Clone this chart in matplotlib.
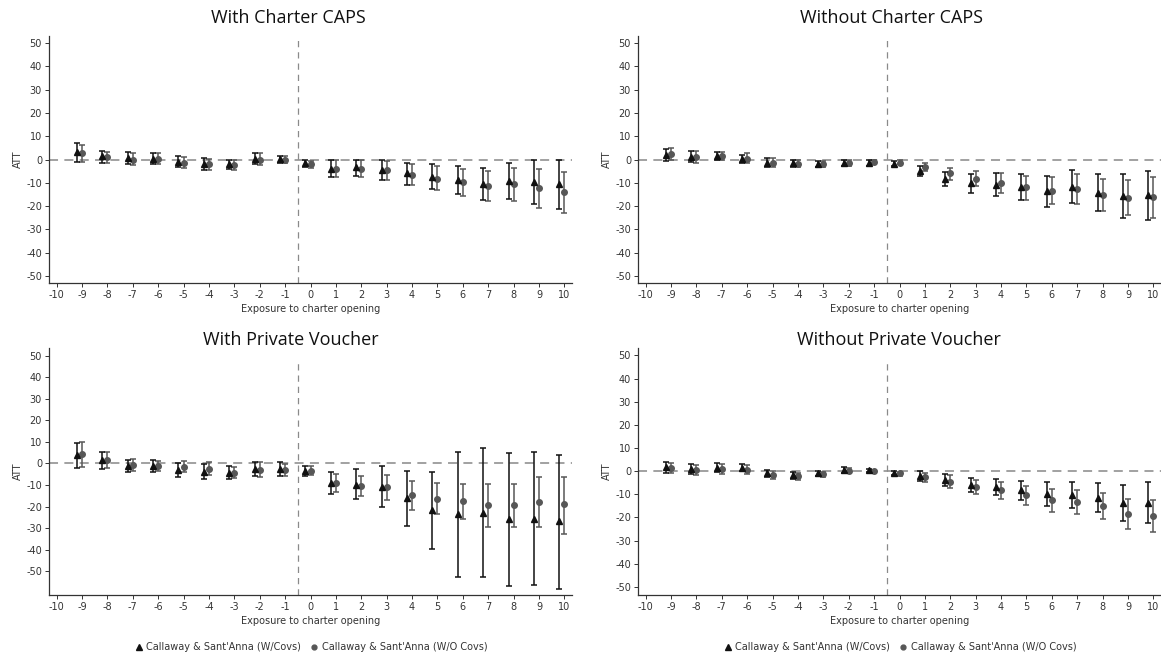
import matplotlib
matplotlib.use("Agg")
import matplotlib.pyplot as plt
from matplotlib.lines import Line2D
import numpy as np

# ---------------- data ----------------
periods = list(range(-9, 11))
xtick_labels = list(range(-10, 11))
ytick_vals = [50, 40, 30, 20, 10, 0, -10, -20, -30, -40, -50]

titles = ["With Charter CAPS", "Without Charter CAPS",
          "With Private Voucher", "Without Private Voucher"]
legend_labels = ["Callaway & Sant'Anna (W/Covs)", "Callaway & Sant'Anna (W/O Covs)"]
xlabel = "Exposure to charter opening"
ylabel = "ATT"

# Panel 1: With Charter CAPS
p1_cov = [3.1, 1.4, 0.6, 0.3, -1.1, -1.9, -2.1, 0.3, 0.1, -1.6, -3.9, -3.4, -4.3, -6.0, -7.4, -9.0, -10.4, -9.2, -9.7, -10.4]
p1_cov_lo = [-0.9, -1.4, -2.0, -2.0, -3.3, -4.3, -4.0, -2.1, -1.6, -3.3, -7.4, -6.9, -8.6, -10.9, -12.7, -14.9, -17.3, -16.9, -19.0, -21.2]
p1_cov_hi = [6.9, 3.6, 3.1, 2.7, 1.4, 0.6, -0.1, 2.6, 1.7, -0.3, -0.3, -0.1, -0.3, -1.4, -2.1, -2.9, -3.6, -1.4, -0.3, -0.1]
p1_nocov = [2.9, 1.0, 0.0, 0.1, -1.4, -2.1, -2.4, 0.0, 0.0, -2.0, -4.1, -4.1, -4.7, -6.6, -8.2, -9.7, -11.2, -10.7, -12.4, -14.0]
p1_nocov_lo = [-1.1, -1.7, -2.4, -2.0, -3.6, -4.6, -4.7, -2.4, -1.7, -3.6, -7.4, -7.6, -8.9, -11.0, -13.2, -15.5, -17.9, -17.6, -20.9, -22.9]
p1_nocov_hi = [6.4, 3.4, 2.7, 2.6, 1.0, 0.3, -0.3, 2.6, 1.6, -0.6, -0.3, -0.3, -0.7, -2.0, -2.9, -3.9, -5.0, -3.6, -4.1, -5.3]

# Panel 2: Without Charter CAPS
p2_cov = [2.1, 1.1, 1.6, 0.3, -1.3, -1.7, -1.9, -1.4, -1.4, -1.9, -4.9, -8.3, -10.2, -10.9, -11.9, -13.7, -11.6, -14.2, -15.6, -15.3]
p2_cov_lo = [-0.7, -1.1, -0.4, -1.7, -3.3, -3.3, -3.1, -2.6, -2.6, -2.7, -7.2, -11.2, -14.2, -15.6, -17.3, -20.2, -18.7, -22.2, -25.0, -25.8]
p2_cov_hi = [4.6, 3.6, 3.4, 2.1, 0.6, -0.3, -0.7, -0.3, -0.3, -0.7, -2.6, -5.4, -6.2, -5.9, -6.3, -6.9, -4.3, -6.3, -6.3, -5.0]
p2_nocov = [2.3, 1.1, 1.6, 0.4, -1.3, -1.9, -1.9, -1.4, -1.0, -1.3, -3.3, -6.0, -8.2, -9.9, -11.9, -13.4, -12.6, -15.2, -16.5, -16.2]
p2_nocov_lo = [-0.3, -1.4, -0.4, -1.7, -3.3, -3.3, -3.1, -2.7, -2.0, -2.0, -5.0, -8.6, -11.4, -14.2, -17.2, -19.0, -19.0, -22.2, -23.9, -24.9]
p2_nocov_hi = [4.9, 3.6, 3.4, 2.6, 0.6, -0.3, -0.6, 0.0, 0.0, -0.4, -1.4, -3.6, -5.0, -5.9, -7.0, -7.4, -6.3, -8.4, -8.9, -7.7]

# Panel 3: With Private Voucher
p3_cov = [4.0, 1.4, -1.4, -1.4, -3.1, -4.2, -4.5, -2.5, -2.8, -3.6, -9.0, -9.8, -10.8, -15.9, -21.7, -23.5, -22.8, -26.0, -25.7, -26.9]
p3_cov_lo = [-2.0, -2.6, -4.2, -3.9, -6.3, -7.4, -7.4, -5.9, -6.0, -5.7, -14.2, -16.7, -20.4, -28.8, -39.5, -52.5, -52.5, -56.8, -56.5, -58.0]
p3_cov_hi = [9.6, 5.1, 1.7, 1.7, 0.3, -0.5, -1.2, 0.8, 0.5, -1.2, -3.9, -2.6, -1.2, -3.4, -4.2, 5.4, 7.0, 4.6, 5.1, 4.0]
p3_nocov = [4.3, 1.7, -0.9, -1.1, -1.5, -2.5, -4.5, -3.1, -3.1, -3.6, -9.1, -10.4, -11.1, -14.7, -16.6, -17.5, -19.2, -19.3, -18.0, -19.0]
p3_nocov_lo = [-1.7, -2.0, -3.6, -3.7, -4.0, -5.6, -6.7, -6.3, -6.0, -5.6, -13.3, -14.9, -17.0, -21.5, -23.5, -26.0, -29.3, -29.7, -29.7, -32.5]
p3_nocov_hi = [10.1, 5.1, 2.0, 1.2, 0.9, 0.6, -1.7, 0.5, -0.5, -1.1, -5.1, -5.9, -5.6, -8.2, -9.1, -9.6, -9.6, -9.6, -6.2, -6.2]

# Panel 4: Without Private Voucher
p4_cov = [1.9, 0.9, 1.4, 1.4, -1.0, -1.7, -0.9, 0.6, 0.4, -0.7, -2.2, -3.9, -5.9, -7.0, -8.2, -9.9, -10.1, -11.5, -13.6, -13.6]
p4_cov_lo = [-0.6, -1.3, -0.4, 0.0, -2.6, -3.6, -2.0, -0.6, -0.3, -1.6, -4.3, -6.3, -8.9, -10.5, -12.5, -15.1, -15.8, -17.5, -21.6, -22.6]
p4_cov_hi = [4.0, 3.0, 3.6, 3.0, 0.7, -0.3, 0.1, 1.9, 1.1, 0.1, 0.0, -1.3, -2.9, -3.6, -4.2, -4.9, -4.6, -5.2, -5.9, -4.9]
p4_nocov = [1.4, 0.6, 1.0, 0.7, -1.6, -2.2, -1.4, 0.0, 0.0, -1.0, -2.6, -4.5, -6.8, -8.2, -10.2, -12.5, -13.2, -15.2, -18.4, -19.4]
p4_nocov_lo = [-0.7, -1.6, -1.3, -1.3, -3.3, -4.0, -2.4, -0.9, -0.4, -1.9, -4.6, -7.3, -9.8, -11.9, -14.7, -17.5, -18.5, -20.8, -24.9, -26.4]
p4_nocov_hi = [3.4, 2.7, 3.3, 2.7, 0.1, -0.6, -0.3, 1.3, 0.6, -0.3, -0.6, -1.7, -3.7, -4.9, -6.3, -7.6, -8.2, -9.5, -12.2, -12.6]

panels = [
    (p1_cov, p1_cov_lo, p1_cov_hi, p1_nocov, p1_nocov_lo, p1_nocov_hi),
    (p2_cov, p2_cov_lo, p2_cov_hi, p2_nocov, p2_nocov_lo, p2_nocov_hi),
    (p3_cov, p3_cov_lo, p3_cov_hi, p3_nocov, p3_nocov_lo, p3_nocov_hi),
    (p4_cov, p4_cov_lo, p4_cov_hi, p4_nocov, p4_nocov_lo, p4_nocov_hi),
]

# ---------------- layout ----------------
W, H = 1161, 656
fig = plt.figure(figsize=(W / 100, H / 100), dpi=100)
plt.rcParams['font.family'] = ['DejaVu Sans']

def px_axes(l, t, r, b):
    return fig.add_axes([l / W, 1 - b / H, (r - l) / W, (b - t) / H])

axes_px = [(49, 36, 572, 283), (638, 36, 1161, 283),
           (49, 348, 572, 595), (638, 348, 1161, 595)]
ylims = [(-53, 53), (-53, 53), (-61, 53.5), (-53.5, 53.2)]
vtop = [None, None, 48.5, 48.5]
title_pos = [(288, 18), (891, 18), (291, 340), (899, 340)]

dark = "#111111"
gray = "#575757"
spine_c = "#333333"

for i, (ax_px, data) in enumerate(zip(axes_px, panels)):
    ax = px_axes(*ax_px)
    cov, cov_lo, cov_hi, nc, nc_lo, nc_hi = [np.array(d) for d in data]
    x = np.array(periods, dtype=float)
    ax.axhline(0, color="#9a9a9a", lw=1.3, ls=(0, (5, 3.5)), zorder=1)
    lo, hi = ylims[i]
    if vtop[i] is None:
        ax.axvline(-0.5, color="#8a8a8a", lw=0.9, ls=(0, (5, 4)), zorder=1)
    else:
        ax.axvline(-0.5, ymax=(vtop[i] - lo) / (hi - lo), color="#8a8a8a", lw=0.9,
                   ls=(0, (5, 4)), zorder=1)
    ax.errorbar(x - 0.2, cov, yerr=[cov - cov_lo, cov_hi - cov], fmt="^",
                color=dark, ms=4.5, elinewidth=1.1, capsize=2.2, capthick=1.1,
                zorder=3)
    ax.errorbar(x, nc, yerr=[nc - nc_lo, nc_hi - nc], fmt="o",
                color=gray, ms=4, elinewidth=1.1, capsize=2.2, capthick=1.1,
                zorder=2)
    ax.set_xlim(-10.3, 10.3)
    ax.set_ylim(lo, hi)
    ax.set_xticks(xtick_labels)
    ax.set_xticklabels([str(v) for v in xtick_labels])
    ax.set_yticks(ytick_vals)
    ax.set_yticklabels([str(v) for v in ytick_vals])
    ax.tick_params(axis="both", labelsize=7, colors="#333333", length=3,
                   width=0.7, pad=2)
    for s in ["top", "right"]:
        ax.spines[s].set_visible(False)
    for s in ["left", "bottom"]:
        ax.spines[s].set_color(spine_c)
        ax.spines[s].set_linewidth(0.9)
    ax.set_xlabel(xlabel, fontsize=7, color="#333333", labelpad=3)
    ax.set_ylabel(ylabel, fontsize=7, color="#333333", labelpad=2)
    tx, ty = title_pos[i]
    fig.text(tx / W, 1 - ty / H, titles[i], ha="center", va="center",
             fontsize=13, family=["Open Sans", "DejaVu Sans"], color="#111111")
    if i >= 2:
        handles = [Line2D([], [], ls="none", marker="^", color=dark, ms=4),
                   Line2D([], [], ls="none", marker="o", color=gray, ms=3.5)]
        leg = ax.legend(handles, legend_labels, loc="upper center",
                        bbox_to_anchor=(0.5, -0.155), ncol=2, frameon=False,
                        fontsize=7, handletextpad=0.3, columnspacing=0.8,
                        handlelength=1.0)
        for t in leg.get_texts():
            t.set_color("#333333")

fig.savefig("out.png", dpi=100)
